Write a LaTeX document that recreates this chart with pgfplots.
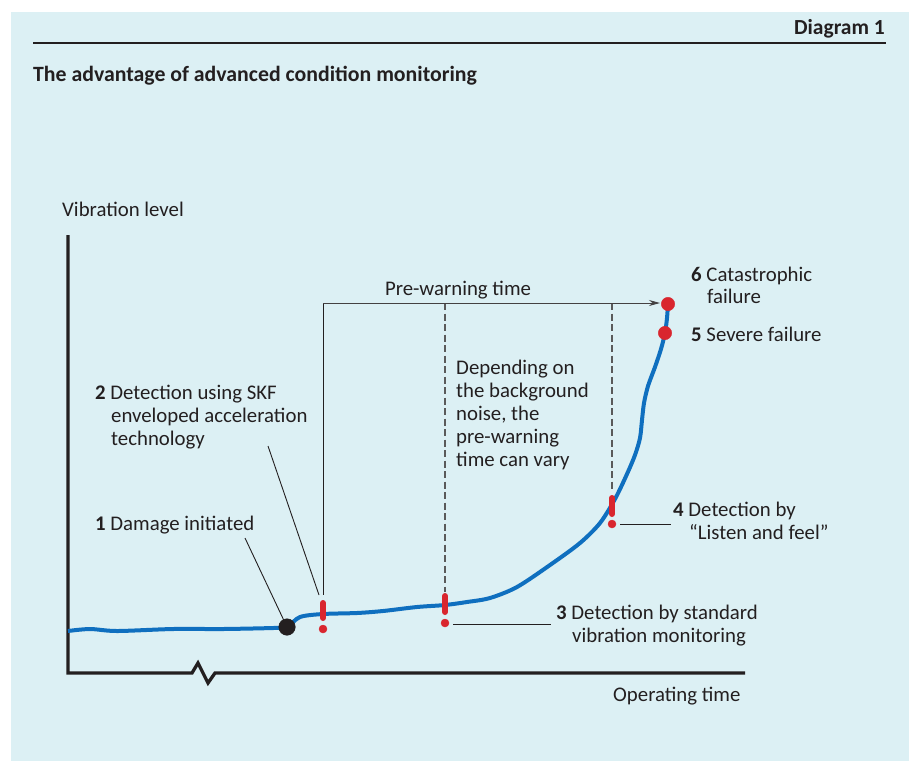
\documentclass[border=0pt]{standalone}
\usepackage{pgfplots}
\pgfplotsset{compat=1.18}
\usepackage{fontspec}
\setmainfont{Carlito}
\usetikzlibrary{arrows.meta}
\definecolor{panel}{HTML}{DCF0F4}
\definecolor{skfblue}{HTML}{0F6FBF}
\definecolor{skfred}{HTML}{D9262E}
\definecolor{ink}{HTML}{231F20}
\definecolor{dashgray}{HTML}{5A5A5A}

% curve of vibration level over operating time (picture pixels, y downwards)
\pgfplotstableread{
x y
68 631
90 629
117 631
173 629
223 629
273 628
287 627
300 617
323 614
357 613
383 611
417 607
445 605
467 602
490 598
517 587
550 565
580 543
600 523
615 499
627 474
635 455
640 438
642 420
644 403
648 386
655 367
661 349
665 333
667 318
668 304
}\vibration

\newcommand{\lbl}[3]{\node[anchor=base west,inner sep=0pt,text=ink,font=\fontsize{20.8}{23}\selectfont] at (#1,#2) {#3};}

\begin{document}
\begin{tikzpicture}
\begin{axis}[
  scale only axis, width=909pt, height=761pt,
  xmin=0, xmax=909, ymin=0, ymax=761, y dir=reverse,
  hide axis, clip=false,
]
% background
\fill[white] (0,0) rectangle (909,761);
\fill[panel] (11,12) rectangle (909,761);

% header
\node[anchor=base east,inner sep=0pt,text=ink,font=\fontsize{21.5}{24}\selectfont\bfseries] at (885,34) {Diagram 1};
\draw[ink,line width=1.2pt] (33,43) -- (886,43);
\node[anchor=base west,inner sep=0pt,text=ink,font=\fontsize{21.8}{24}\selectfont\bfseries] at (33,81) {The advantage of advanced condition monitoring};

% axes with break
\draw[ink,line width=3.3pt,line join=miter] (68,235) -- (68,673) -- (192,673) -- (198,663) -- (208,683) -- (215,673) -- (745,673);
\lbl{62}{216}{Vibration level}
\lbl{613}{701}{Operating time}

% pre-warning span
\draw[ink,line width=0.9pt] (323,303) -- (323,595);
\draw[dashgray,line width=1.2pt,dash pattern=on 7pt off 3.5pt] (445,303) -- (445,592);
\draw[dashgray,line width=1.2pt,dash pattern=on 7pt off 3.5pt] (612,303) -- (612,492);
\draw[ink!85,line width=0.9pt,-{Stealth[length=11pt,width=6pt]}] (323,303) -- (660,303);
\node[anchor=base,inner sep=0pt,text=ink,font=\fontsize{20.8}{23}\selectfont] at (458,295) {Pre-warning time};

% leader lines
\draw[ink,line width=0.9pt] (268,446) -- (319,595);
\draw[ink,line width=0.9pt] (245,538) -- (287,627);
\draw[ink,line width=0.9pt] (453,624) -- (551,624);
\draw[ink,line width=0.9pt] (620,524) -- (671,524);

% curve
\addplot[skfblue,line width=4pt,smooth,tension=0.5] table[x=x,y=y] {\vibration};

% events
\addplot[only marks,mark=*,mark size=8.3pt,mark options={fill=ink,draw=ink}] coordinates {(287,627)};
\addplot[only marks,mark=*,mark size=6.7pt,mark options={fill=skfred,draw=skfred}] coordinates {(668,304)(665,333)};
\addplot[skfred,line width=6pt,line cap=round] coordinates {(323,603)(323,618)};
\addplot[skfred,line width=6pt,line cap=round] coordinates {(445,596)(445,612)};
\addplot[skfred,line width=6pt,line cap=round] coordinates {(612,498)(612,514)};
\addplot[only marks,mark=*,mark size=4pt,mark options={fill=skfred,draw=skfred}] coordinates {(323,629)(445,623)(612,524)};

% labels
\lbl{691}{281}{\textbf{6} Catastrophic}
\lbl{707}{303}{failure}
\lbl{691}{341}{\textbf{5} Severe failure}
\lbl{456}{374}{Depending on}
\lbl{456}{397}{the background}
\lbl{456}{420}{noise, the}
\lbl{456}{443}{pre-warning}
\lbl{456}{466}{time can vary}
\lbl{95}{399}{\textbf{2} Detection using SKF}
\lbl{111}{422}{enveloped acceleration}
\lbl{111}{445}{technology}
\lbl{95}{530}{\textbf{1} Damage initiated}
\lbl{673}{516}{\textbf{4} Detection by}
\lbl{689}{539}{“Listen and feel”}
\lbl{556}{619}{\textbf{3} Detection by standard}
\lbl{572}{642}{vibration monitoring}
\end{axis}
\end{tikzpicture}
\end{document}
